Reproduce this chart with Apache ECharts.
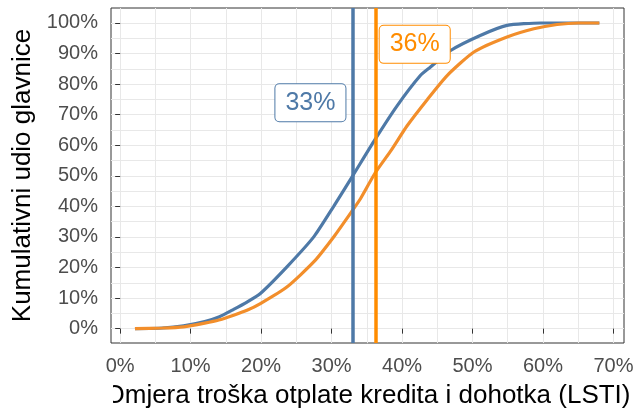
<!DOCTYPE html>
<html>
<head>
<meta charset="utf-8">
<script src="https://cdn.jsdelivr.net/npm/echarts@6/dist/echarts.min.js"></script>
<style>
  html, body { margin: 0; padding: 0; background: #fff; }
  #chart { width: 635px; height: 409px; }
</style>
</head>
<body>
<div id="chart"></div>
<script>
  // LSTI (%) vs cumulative share of principal (%)
  var blueX = [2.1, 6, 9, 12, 14, 16.1, 18, 19.9, 23.7, 27.5, 30.3, 33, 36.2, 39.3, 42.6, 44, 46.9, 51.1, 54.9, 59.7, 65, 68];
  var blueY = [0, 0.2, 0.9, 2.3, 3.8, 6.3, 8.7, 11.5, 20.3, 30.1, 40, 50, 62, 72.9, 82.8, 85.5, 91, 95.9, 99.2, 100, 100, 100];
  var orangeX = [2.1, 6, 9, 12, 14, 16.1, 18, 19.9, 23.7, 27.5, 30.3, 32.7, 34.1, 36.2, 38.5, 40.7, 43.6, 46.4, 50.2, 54.9, 58.7, 62, 65, 68];
  var orangeY = [0, 0.2, 0.6, 1.8, 2.8, 4.4, 6, 8.2, 13.7, 21.9, 30, 37.8, 42.5, 51, 58.5, 66.3, 75, 82.8, 90.5, 95.4, 98.1, 99.5, 100, 100];
  var medians = [33, 36.2];
  var medianLabels = ['33%', '36%'];
  var xTicks = [0, 10, 20, 30, 40, 50, 60, 70];
  var yTicks = [0, 10, 20, 30, 40, 50, 60, 70, 80, 90, 100];
  var xGrid = [0, 5, 10, 15, 20, 25, 30, 35, 40, 45, 50, 55, 60, 65, 70];
  var yGrid = [0, 5, 10, 15, 20, 25, 30, 35, 40, 45, 50, 55, 60, 65, 70, 75, 80, 85, 90, 95, 100];

  var BLUE = '#4e79a7';
  var ORANGE = '#f28e2b';
  var ORANGE_V = '#ff8c00';
  var FONT = 'Liberation Sans';

  function pairs(xs, ys) {
    return xs.map(function (x, i) { return [x, ys[i]]; });
  }

  var chart = echarts.init(document.getElementById('chart'));

  var gridAxis = {
    type: 'value',
    axisLine: {show: false},
    axisLabel: {show: false},
    splitLine: {show: true, lineStyle: {color: '#e8e8e8', width: 1}}
  };

  var option = {
    animation: false,
    backgroundColor: '#fff',
    grid: {
      left: 111, right: 11, top: 8, bottom: 66,
      containLabel: false,
      outerBoundsMode: 'none',
      show: true,
      backgroundColor: '#fff',
      borderColor: '#333',
      borderWidth: 1
    },
    xAxis: [
      {
        type: 'value', min: -1.3, max: 71.5, position: 'bottom',
        axisLine: {show: false},
        axisTick: {show: true, length: 5, customValues: xTicks, lineStyle: {color: '#333'}},
        axisLabel: {
          customValues: xTicks, formatter: '{value}%', margin: 13,
          fontSize: 20, color: '#4d4d4d', fontFamily: FONT
        },
        splitLine: {show: false},
        name: 'Omjera troška otplate kredita i dohotka (LSTI)',
        nameLocation: 'middle', nameGap: 40,
        nameTextStyle: {fontSize: 26, color: '#000', fontFamily: FONT}
      },
      Object.assign({}, gridAxis, {
        min: -1.3, max: 71.5, position: 'top',
        axisTick: {show: true, length: 0, customValues: xGrid}
      })
    ],
    yAxis: [
      {
        type: 'value', min: -4.7, max: 104.9, position: 'left',
        axisLine: {show: false},
        axisTick: {show: true, length: 5, customValues: yTicks, lineStyle: {color: '#333'}},
        axisLabel: {
          customValues: yTicks, formatter: '{value}%', margin: 13,
          fontSize: 20, color: '#4d4d4d', fontFamily: FONT
        },
        splitLine: {show: false},
        name: 'Kumulativni udio glavnice',
        nameLocation: 'middle', nameGap: 74, nameRotate: 90,
        nameTextStyle: {fontSize: 26, color: '#000', fontFamily: FONT}
      },
      Object.assign({}, gridAxis, {
        min: -4.7, max: 104.9, position: 'right',
        axisTick: {show: true, length: 0, customValues: yGrid}
      })
    ],
    series: [
      {
        type: 'line', data: pairs(blueX, blueY), showSymbol: false, smooth: 0.2,
        lineStyle: {color: BLUE, width: 3.2}, z: 2
      },
      {
        type: 'line', data: pairs(orangeX, orangeY), showSymbol: false, smooth: 0.2,
        lineStyle: {color: ORANGE, width: 3.2}, z: 3
      },
      {
        type: 'line', data: [], z: 4,
        markLine: {
          silent: true, symbol: 'none', label: {show: false},
          data: [
            {xAxis: medians[0], lineStyle: {color: BLUE, width: 3.5, type: 'solid'}},
            {xAxis: medians[1], lineStyle: {color: ORANGE_V, width: 3.5, type: 'solid'}}
          ]
        }
      },
      {
        type: 'scatter', z: 5, symbolSize: 0, silent: true,
        itemStyle: {color: '#fff', opacity: 1},
        data: [
          {value: [27, 73.9], name: medianLabels[0], label: {color: BLUE, borderColor: BLUE}},
          {value: [41.8, 93], name: medianLabels[1], label: {color: ORANGE_V, borderColor: ORANGE_V}}
        ],
        label: {
          show: true, position: 'inside', formatter: '{b}',
          fontSize: 25, fontFamily: FONT, opacity: 1,
          textBorderWidth: 0,
          backgroundColor: '#fff', borderWidth: 1, borderRadius: 4,
          padding: [6, 10]
        }
      }
    ]
  };

  chart.setOption(option);

  // the reference crops the left half of the "O" in the x title
  chart.setOption({
    graphic: [{
      type: 'rect', z: 100,
      shape: {x: 95, y: 378, width: 18, height: 31},
      style: {fill: '#fff'}
    }]
  });
</script>
</body>
</html>
